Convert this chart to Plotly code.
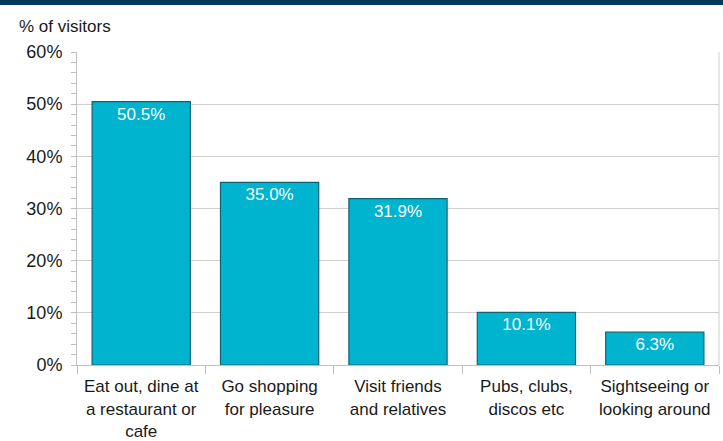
import plotly.graph_objects as go

categories = ["Eat out, dine at<br>a restaurant or<br>cafe", "Go shopping<br>for pleasure",
              "Visit friends<br>and relatives", "Pubs, clubs,<br>discos etc",
              "Sightseeing or<br>looking around"]
values = [50.5, 35.0, 31.9, 10.1, 6.3]
y_ticks = [0, 10, 20, 30, 40, 50, 60]

font_family = "Liberation Sans, Arial, sans-serif"

fig = go.Figure(go.Bar(
    x=categories, y=values,
    marker=dict(color="#00B3CE", line=dict(color="#0B6577", width=1.2)),
    text=[f"{v:.1f}%" for v in values],
    textposition="inside", insidetextanchor="end",
    textfont=dict(color="white", size=17, family=font_family),
    textangle=0,
))

fig.update_layout(
    width=723, height=441,
    margin=dict(l=77, r=4, t=52, b=76),
    paper_bgcolor="white", plot_bgcolor="white",
    bargap=0.235, showlegend=False,
    font=dict(family=font_family, size=17, color="#1a1a1a"),
    uniformtext=dict(mode="show", minsize=10),
    shapes=[dict(type="rect", xref="paper", yref="paper", x0=-0.2, x1=1.1,
                 y0=1 + 47/313, y1=1.2, fillcolor="#003B5C", line=dict(width=0), layer="above")],
    annotations=[dict(text="% of visitors", xref="paper", yref="paper", x=-0.093, y=1.045,
                      xanchor="left", yanchor="bottom", showarrow=False,
                      font=dict(size=17, family=font_family, color="#1a1a1a"))],
)
fig.update_yaxes(
    range=[0, 60], tickvals=y_ticks, ticktext=[f"{t}%" for t in y_ticks],
    showgrid=True, gridcolor="#D0D0D0", gridwidth=1,
    showline=True, linecolor="#BFBFBF", linewidth=1,
    ticks="outside", ticklen=5, tickcolor="#BFBFBF",
    minor=dict(dtick=2, ticks="outside", ticklen=5, tickcolor="#BFBFBF", showgrid=False),
    zeroline=False, tickfont=dict(size=18), ticklabelstandoff=5, automargin=False,
)
fig.update_xaxes(
    showline=True, linecolor="#BFBFBF", linewidth=1,
    ticks="outside", tickson="boundaries", ticklen=8, tickcolor="#BFBFBF",
    tickfont=dict(size=17), mirror=False, ticklabelstandoff=6,
    tickangle=0, automargin=False,
)
# right border line of plot area
fig.add_shape(type="line", xref="paper", yref="paper", x0=1, x1=1, y0=0, y1=1,
              line=dict(color="#D0D0D0", width=1))
fig.write_html("out.html")
